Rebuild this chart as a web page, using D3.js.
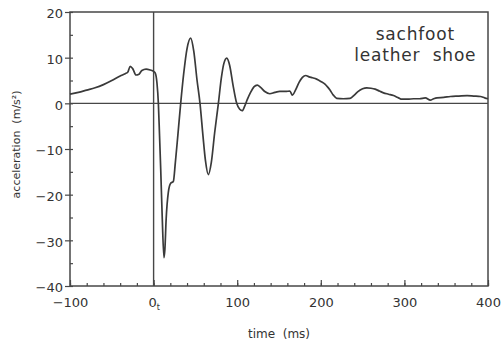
<!DOCTYPE html>
<html>
<head>
<meta charset="utf-8">
<script src="https://cdn.jsdelivr.net/npm/d3@7"></script>
<style>
  body { margin: 0; background: #fff; }
  svg text { font-family: "DejaVu Sans", sans-serif; fill: #333; }
</style>
</head>
<body>
<div id="chart"></div>
<script>
// time in ms, acceleration in m/s^2
const times = [-100, -90, -80, -70, -60, -50, -40, -34, -31, -28, -25, -21, -18, -14, -9, -4, 0, 2, 4, 5.7, 7, 8.5, 10.4, 12.4, 13.5, 15, 17.6, 20.4, 23.6,
  26, 29, 32.4, 36, 40, 44.3, 48, 52, 55.5, 59, 62, 65.5, 69, 73, 77.5, 81, 84, 87.5, 91, 95, 99.4, 103, 106, 109, 112, 116, 120, 124, 128,
  133, 139, 145, 151, 158, 163, 166, 170, 174, 178, 182, 186, 190, 195, 200, 205, 208, 211, 215, 219, 227, 235, 240, 244, 250, 255, 260,
  265, 270, 275, 281, 287, 293, 297, 304, 311, 318, 325, 331, 335, 339, 347, 355, 365, 375, 383, 391, 396, 400];
const accel = [2.0, 2.4, 2.9, 3.4, 4.1, 5.0, 6.0, 6.5, 6.8, 8.1, 7.6, 6.2, 6.3, 7.2, 7.5, 7.3, 7.0, 6.6, 4.5, 0, -6.5, -14.4, -25.4, -33.8, -32, -25.4, -19.5, -17.5, -17.1,
  -13, -7, 0, 6.5, 12, 14.3, 11.5, 5, 0, -7, -12.5, -15.6, -13, -6.5, 0, 5.5, 8.7, 9.9, 8.3, 4, 0, -1.3, -1.6, -0.6, 0.8, 2.4, 3.6, 4.0, 3.5,
  2.6, 2.1, 2.4, 2.6, 2.6, 2.7, 1.8, 3.0, 4.6, 5.7, 6.1, 5.8, 5.6, 5.3, 4.8, 4.2, 3.6, 2.9, 1.8, 1.1, 1.0, 1.1, 1.8, 2.5, 3.2, 3.4, 3.3,
  3.1, 2.7, 2.3, 2.0, 1.7, 1.2, 0.9, 0.9, 1.0, 1.0, 1.2, 0.7, 1.0, 1.2, 1.3, 1.5, 1.6, 1.7, 1.6, 1.5, 1.2, 1.0];

const xMajor = [-100, 0, 100, 200, 300, 400];
const xMinor = d3.range(-100, 401, 20);
const yMajor = [20, 10, 0, -10, -20, -30, -40];
const yMinor = d3.range(-40, 21, 5);
const labelText = ["sachfoot", "leather  shoe"];

const width = 501, height = 342;
const margin = {top: 12, right: 13, bottom: 56, left: 70};
const w = width - margin.left - margin.right,
      h = height - margin.top - margin.bottom;

const svg = d3.select("#chart").append("svg")
    .attr("width", width)
    .attr("height", height);
const g = svg.append("g")
    .attr("transform", "translate(" + margin.left + "," + margin.top + ")");

const x = d3.scaleLinear().domain([-100, 400]).range([0, w]);
const y = d3.scaleLinear().domain([-40, 20]).range([h, 0]);

const ink = "#474747";

// minor ticks, pointing inward
g.append("g")
    .attr("transform", "translate(0," + h + ")")
    .call(d3.axisBottom(x).tickValues(xMinor).tickSize(-3).tickFormat(""))
    .call(a => a.select(".domain").remove());
g.append("g")
    .call(d3.axisLeft(y).tickValues(yMinor).tickSize(-3).tickFormat(""))
    .call(a => a.select(".domain").remove());

// major ticks with labels
const xAxis = g.append("g")
    .attr("transform", "translate(0," + h + ")")
    .call(d3.axisBottom(x).tickValues(xMajor).tickSize(-6).tickPadding(12))
    .call(a => a.select(".domain").remove());
xAxis.selectAll("text").style("font-size", "13px");
xAxis.selectAll(".tick").filter(d => d === 0).select("text")
    .text("0")
    .append("tspan").attr("dy", "0.4em").style("font-size", "8px").text("t");

const yAxis = g.append("g")
    .call(d3.axisLeft(y).tickValues(yMajor).tickSize(5).tickPadding(2))
    .call(a => a.select(".domain").remove());
yAxis.selectAll("text").style("font-size", "13px").attr("dy", "0.45em");

g.selectAll(".tick line").attr("stroke", ink).attr("stroke-width", 1.2);

// frame and zero lines
g.append("rect")
    .attr("width", w).attr("height", h)
    .attr("fill", "none").attr("stroke", ink).attr("stroke-width", 1.5);
g.append("line")
    .attr("x1", 0).attr("x2", w).attr("y1", y(0)).attr("y2", y(0))
    .attr("stroke", ink).attr("stroke-width", 1.4);
g.append("line")
    .attr("x1", x(0)).attr("x2", x(0)).attr("y1", 0).attr("y2", h)
    .attr("stroke", ink).attr("stroke-width", 1.4);

// the signal
const pts = times.map((t, i) => [t, accel[i]]);
g.append("path")
    .datum(pts)
    .attr("fill", "none")
    .attr("stroke", "#3a3a3a")
    .attr("stroke-width", 1.7)
    .attr("stroke-linejoin", "round")
    .attr("d", d3.line().x(d => x(d[0])).y(d => y(d[1])).curve(d3.curveMonotoneX));

// annotation
g.selectAll(".note")
    .data(labelText)
    .enter().append("text")
    .attr("class", "note")
    .attr("x", x(313))
    .attr("y", (d, i) => 28 + i * 21)
    .attr("text-anchor", "middle")
    .style("font-size", "17px")
    .style("letter-spacing", "0.8px")
    .style("white-space", "pre")
    .text(d => d);

// axis titles
svg.append("text")
    .attr("x", margin.left + x(150))
    .attr("y", 338)
    .attr("text-anchor", "middle")
    .style("font-size", "12px")
    .style("white-space", "pre")
    .text("time  (ms)");
svg.append("text")
    .attr("transform", "translate(20," + (margin.top + y(-9)) + ") rotate(-90)")
    .attr("text-anchor", "middle")
    .style("font-size", "11px")
    .style("white-space", "pre")
    .text("acceleration  (m/s²)");
</script>
</body>
</html>
